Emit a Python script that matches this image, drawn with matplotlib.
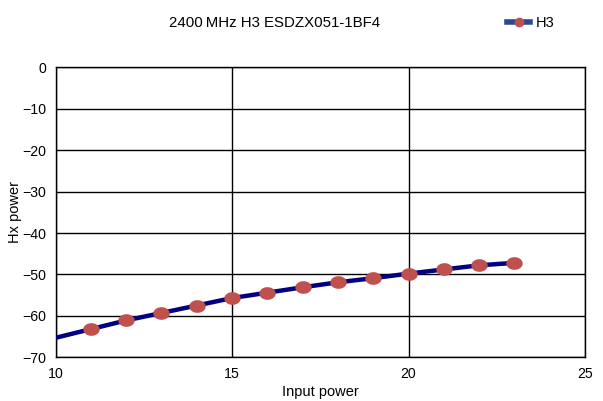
import matplotlib
matplotlib.use("Agg")
import matplotlib.pyplot as plt
import numpy as np
from matplotlib.path import Path
from matplotlib.lines import Line2D

plt.rcParams['font.family'] = ['Liberation Sans', 'DejaVu Sans']

input_power = [10, 11, 12, 13, 14, 15, 16, 17, 18, 19, 20, 21, 22, 23]
h3_power = [-65.3, -63.2, -61.1, -59.3, -57.5, -55.7, -54.4, -53.1, -51.9, -50.9, -49.8, -48.8, -47.8, -47.2]
x_ticks = [10, 15, 20, 25]
y_ticks = [0, -10, -20, -30, -40, -50, -60, -70]

# elliptical marker
t = np.linspace(0, 2 * np.pi, 60)
ell = Path(np.column_stack([np.cos(t), 0.75 * np.sin(t)]), closed=True)

fig = plt.figure(figsize=(6.03, 4.01), dpi=100)
ax = fig.add_axes([55.5 / 603, 1 - 357.3 / 401, (585 - 55.5) / 603, (357.3 - 67.3) / 401])

ax.plot(input_power, h3_power, color='#000080', lw=3.2, zorder=3)
ax.plot(input_power[1:], h3_power[1:], linestyle='none', marker=ell, markersize=10.8,
        markerfacecolor='#C0504D', markeredgecolor='#C0504D', zorder=4)

ax.set_xlim(10, 25)
ax.set_ylim(-70, 0)
ax.set_xticks(x_ticks)
ax.set_yticks(y_ticks)
ax.tick_params(length=0, labelsize=10.2, pad=7)
ax.grid(True, color='black', lw=1)
for s in ax.spines.values():
    s.set_color('black')
    s.set_linewidth(1)

ax.set_xlabel('Input power', fontsize=10.5, va='center')
ax.xaxis.set_label_coords(0.5, -(392 - 357.3) / 290)
ax.set_ylabel('Hx power', fontsize=10.5, va='center')
ax.yaxis.set_label_coords((15 - 55.5) / 529.5, 0.5)

fig.text(274.5 / 603, 1 - 23 / 401, '2400\u2009MHz H3 ESDZX051-1BF4', fontsize=10.8,
         ha='center', va='center', family=['Liberation Sans', 'DejaVu Sans'])

handle = Line2D([], [], color='#2A4A8E', lw=4, marker='o', markersize=6,
                markerfacecolor='#C0504D', markeredgecolor='#C0504D')
fig.legend([handle], ['H3'], loc='center left', bbox_to_anchor=(507 / 603, 1 - 23 / 401),
           frameon=False, fontsize=10.5, handlelength=1.6, handletextpad=0.35, borderpad=0,
           borderaxespad=0)

fig.savefig('out.png', dpi=100)
